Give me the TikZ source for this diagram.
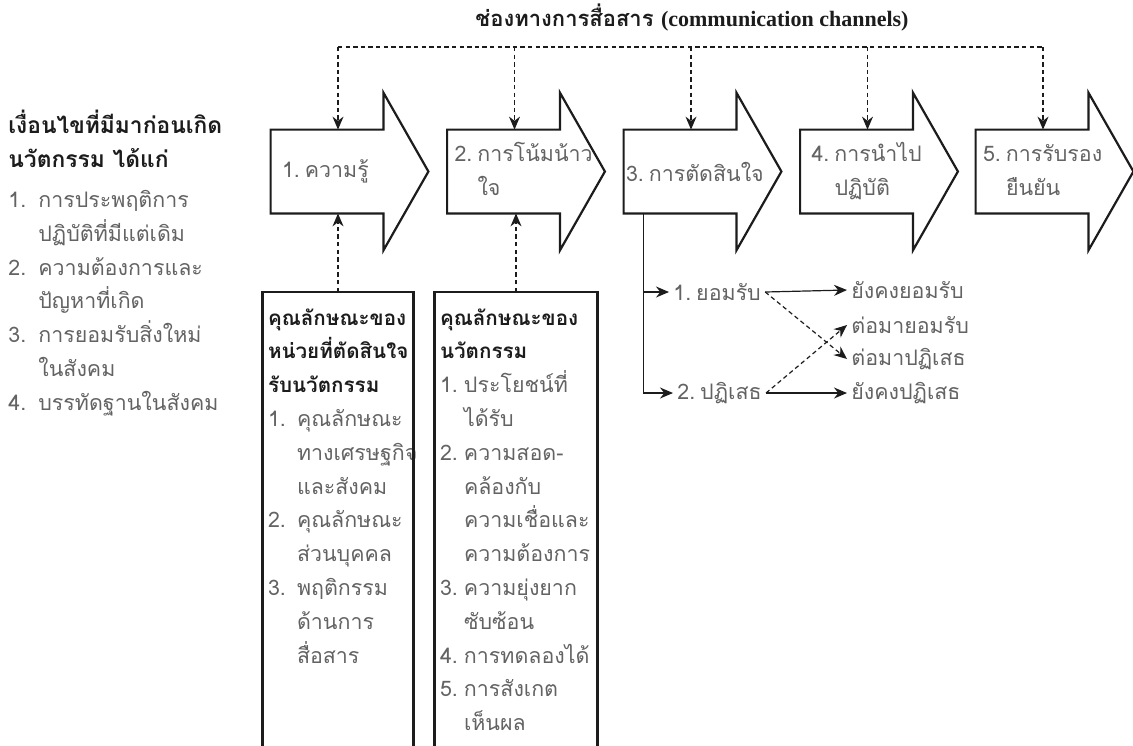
\documentclass[tikz,border=0pt]{standalone}
\usepackage{fontspec}
\setmainfont[Script=Thai]{Loma}
\newfontfamily\titlefont{Liberation Serif}
\usepackage{xcolor}
\usetikzlibrary{arrows.meta, positioning, calc}

\definecolor{ink}{HTML}{1C1C1C}
\definecolor{txtgray}{HTML}{636363}

\newcommand{\nb}[2][13pt]{\makebox[#1][l]{#2}}
\newcommand{\hind}[1][13pt]{\makebox[#1]{}}
\newcommand{\ns}{\nobreak\hspace{2.5pt}}
\newcommand{\hd}[2][10.3pt]{\textcolor{ink}{\fontsize{#1}{16.9}\selectfont\bfseries #2}}
\newcommand{\lbl}[3]{\makebox[49pt][l]{\begin{tabular}{@{}l@{}}#1\\\hspace*{#2}#3\end{tabular}}}

\begin{document}
\begin{tikzpicture}[
  x=0.5pt, y=-0.5pt,
  every node/.style={font=\fontsize{10.7}{16.9}\selectfont, text=txtgray},
  stage/.style={
    rectangle, minimum width=56pt, minimum height=41.5pt,
    inner xsep=3.5pt, inner ysep=0pt
  },
  outl/.style={draw=ink, line width=1.1pt, line join=miter},
  kbox/.style={rectangle, anchor=north, inner xsep=2.5pt, inner ysep=8pt, align=left},
  frame/.style={draw=ink, line width=1.2pt},
  pick/.style={anchor=west, inner xsep=2pt, inner ysep=1pt},
  arr/.style={-{Stealth[length=6.5pt, width=5.5pt]}, draw=ink, line width=0.6pt},
  darr/.style={arr, dash pattern=on 2.2pt off 1.6pt},
  dline/.style={draw=ink, line width=0.6pt, dash pattern=on 2.2pt off 1.6pt}
]
\useasboundingbox (0,0) rectangle (1133,745);
\clip (0,0) rectangle (1133,745);

% ── Título ────────────────────────────────────────────────────
\node[font=\fontsize{11}{13}\selectfont\bfseries, text=ink] (T) at (692,18)
  {ช่องทางการสื่อสาร {\titlefont\bfseries (communication channels)}};

% ── Condiciones previas (izquierda) ───────────────────────────
\node[anchor=north west, align=left, inner sep=0pt] (C) at (8,110) {
  \hd[11.4pt]{เงื่อนไขที่มีมาก่อนเกิด}\\
  \hd[11.4pt]{นวัตกรรม ได้แก่}\\[3pt]
  \nb[15pt]{1.}การประพฤติการ\\
  \hind[15pt]ปฏิบัติที่มีแต่เดิม\\
  \nb[15pt]{2.}ความต้องการและ\\
  \hind[15pt]ปัญหาที่เกิด\\
  \nb[15pt]{3.}การยอมรับสิ่งใหม่\\
  \hind[15pt]ในสังคม\\
  \nb[15pt]{4.}บรรทัดฐานในสังคม
};

% ── Etapas (flechas de bloque) ────────────────────────────────
\node[stage] (S1) at (327,171.5)   {\makebox[49pt][l]{\hspace*{2pt}1.\ns ความรู้}};
\node[stage] (S2) at (503.5,171.5) {\lbl{2.\ns การโน้มน้าว}{11.5pt}{ใจ}};
\node[stage, inner xsep=1pt] (S3) at (680,171.5) {\makebox[54pt][l]{3.\ns การตัดสินใจ}};
\node[stage] (S4) at (856.5,171.5) {\lbl{\hspace*{2pt}4.\ns การนำไป}{13.5pt}{ปฏิบัติ}};
\node[stage] (S5) at (1032,171.5)  {\lbl{5.\ns การรับรอง}{11.5pt}{ยืนยัน}};

\foreach \i in {1,...,5}
  \draw[outl] (S\i.south east) -- (S\i.south west) -- (S\i.north west)
    -- (S\i.north east) -- ++(0,-37) -- ($(S\i.east)+(45,0)$)
    -- ($(S\i.south east)+(0,37)$) -- cycle;

% ── Canales de comunicación ───────────────────────────────────
\coordinate (bus) at (0,47);
\foreach \i in {1,...,5} {
  \coordinate (d\i) at ($(S\i.north)+(11,0)$);
  \draw[darr] (d\i |- bus) -- (d\i);
}
\draw[dline] (d1 |- bus) -- (d5 |- bus);

% ── Cajas de características ──────────────────────────────────
\node[kbox, text width=70pt] (K1) at (338,292) {
  \hd{คุณลักษณะของ}\\
  \hd{หน่วยที่ตัดสินใจ}\\
  \hd{รับนวัตกรรม}\\
  \nb[14.5pt]{1.}คุณลักษณะ\\
  \hind[14.5pt]ทางเศรษฐกิจ\\
  \hind[14.5pt]และสังคม\\
  \nb[14.5pt]{2.}คุณลักษณะ\\
  \hind[14.5pt]ส่วนบุคคล\\
  \nb[14.5pt]{3.}พฤติกรรม\\
  \hind[14.5pt]ด้านการ\\
  \hind[14.5pt]สื่อสาร
};
\node[kbox, text width=76pt] (K2) at (516,292) {
  \hd{คุณลักษณะของ}\\
  \hd{นวัตกรรม}\\
  \nb[12pt]{1.}ประโยชน์ที่\\
  \hind[12pt]ได้รับ\\
  \nb[12pt]{2.}ความสอด-\\
  \hind[12pt]คล้องกับ\\
  \hind[12pt]ความเชื่อและ\\
  \hind[12pt]ความต้องการ\\
  \nb[12pt]{3.}ความยุ่งยาก\\
  \hind[12pt]ซับซ้อน\\
  \nb[12pt]{4.}การทดลองได้\\
  \nb[12pt]{5.}การสังเกต\\
  \hind[12pt]เห็นผล
};

\foreach \k in {K1,K2}
  \draw[frame] ($(\k.north west)+(0,500)$) -- (\k.north west)
    -- (\k.north east) -- ++(0,500);

\draw[darr] (K1.north) -- (K1.north |- S1.south);
\draw[darr] (K2.north) -- (K2.north |- S2.south);

% ── Decisión: aceptar / rechazar ──────────────────────────────
\coordinate (dv) at ($(S3.south west)+(20,0)$);
\node[pick] (A1) at (669,292) {1.\ns ยอมรับ};
\node[pick] (A2) at (673,393) {2.\ns ปฏิเสธ};
\node[pick] (R1) at (847,290) {ยังคงยอมรับ};
\node[pick] (R2) at (847,325) {ต่อมายอมรับ};
\node[pick] (R3) at (847,359) {ต่อมาปฏิเสธ};
\node[pick] (R4) at (847,393) {ยังคงปฏิเสธ};

\draw[arr] (dv) |- (A1.west);
\draw[arr] (dv) |- (A2.west);
\draw[arr] (A1.east) -- (R1.west);
\draw[arr] (A2.east) -- (R4.west);
\draw[darr] (A1.east) -- (R3.west);
\draw[darr] (A2.east) -- (R2.west);

\end{tikzpicture}
\end{document}
